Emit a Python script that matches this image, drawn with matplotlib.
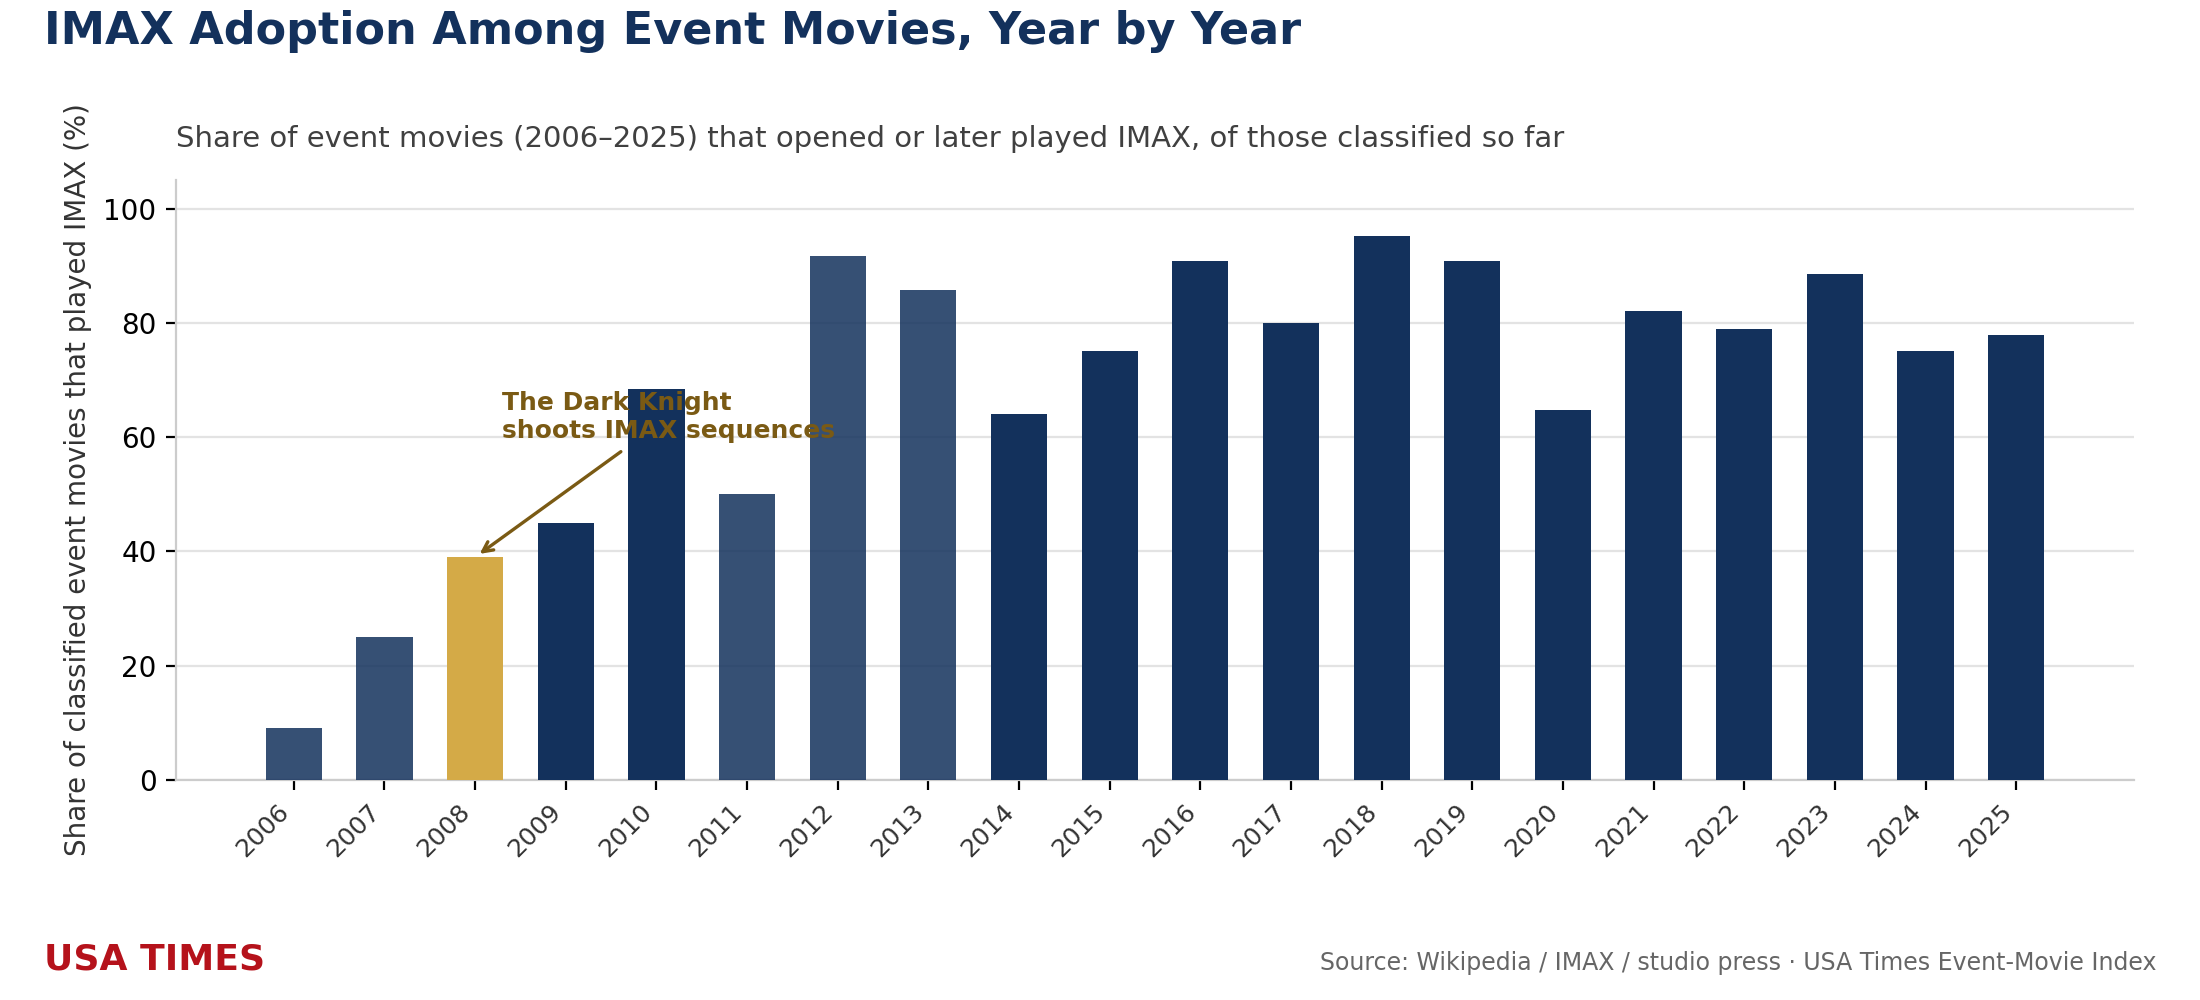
import matplotlib
matplotlib.use("Agg")
import matplotlib.pyplot as plt

years = [str(y) for y in range(2006, 2026)]
share_pct = [9.1, 25.0, 39.0, 45.0, 68.4, 50.0, 91.7, 85.7, 64.0, 75.0,
             90.9, 80.0, 95.2, 90.9, 64.7, 82.1, 79.0, 88.5, 75.0, 77.8]
# years with few classified titles are drawn lighter
low_sample = ["2006", "2007", "2011", "2012", "2013"]
highlight_year = "2008"

NAVY = "#13315c"
GOLD = "#d4aa47"
BROWN = "#7a5a14"


def plot_imax_adoption() -> None:
    fig = plt.figure(figsize=(11, 5), dpi=200)
    ax = fig.add_axes([0.08, 0.22, 0.89, 0.60])

    x = list(range(len(years)))
    colors = [GOLD if y == highlight_year else NAVY for y in years]
    alphas = [0.85 if y in low_sample else 1.0 for y in years]

    bars = ax.bar(x, share_pct, width=0.62, color=colors, zorder=3)
    for bar, a in zip(bars, alphas):
        bar.set_alpha(a)

    ax.set_xlim(-1.3, len(years) + 0.3)
    ax.set_ylim(0, 105)
    ax.set_xticks(x)
    ax.set_xticklabels(years, rotation=45, ha="right",
                       color="#333333", fontsize=9)
    ax.tick_params(axis="y", labelsize=10)
    ax.grid(axis="y", color="#e3e3e3", linewidth=0.8, zorder=0)

    for side in ["top", "right"]:
        ax.spines[side].set_visible(False)
    for side in ["left", "bottom"]:
        ax.spines[side].set_color("#cccccc")

    ax.set_ylabel("Share of classified event movies that played IMAX (%)",
                  fontsize=10, color="#333333")
    ax.set_title("Share of event movies (2006\u20132025) that opened or later played IMAX, "
                 "of those classified so far",
                 loc="left", fontsize=10.5, color="#404040", pad=12)

    hi = years.index(highlight_year)
    ax.annotate("The Dark Knight\nshoots IMAX sequences",
                xy=(hi, share_pct[hi]), xytext=(hi + 0.3, 59),
                fontsize=9, fontweight="bold", color=BROWN,
                ha="left", va="bottom",
                arrowprops=dict(arrowstyle="->", color=BROWN, lw=1.2),
                zorder=5)

    fig.text(0.02, 0.99, "IMAX Adoption Among Event Movies, Year by Year",
             fontsize=16, fontweight="bold", color=NAVY, va="top", ha="left")
    fig.text(0.02, 0.04, "USA TIMES", fontsize=13, fontweight="bold",
             color="#b5121b", va="center", ha="left")
    fig.text(0.98, 0.037, "Source: Wikipedia / IMAX / studio press \u00b7 USA Times Event-Movie Index",
             fontsize=8.5, color="#666666", va="center", ha="right")

    fig.savefig("out.png", dpi=200)


if __name__ == "__main__":
    plot_imax_adoption()
